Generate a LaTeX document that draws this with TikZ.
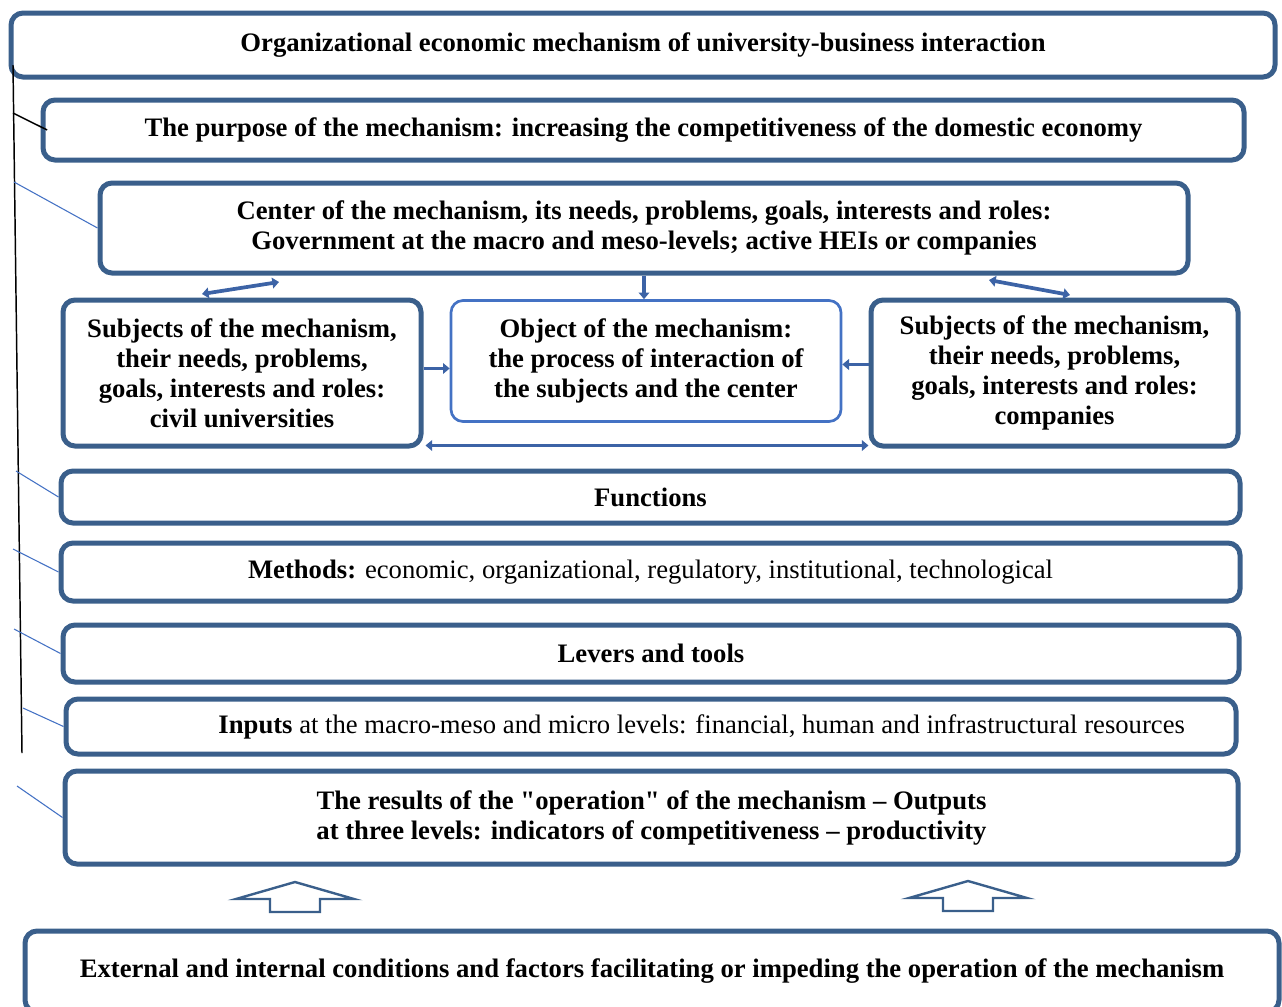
\documentclass[tikz,border=0pt]{standalone}
\usepackage{fontspec}
\setmainfont{Liberation Serif}
\usepackage{tikz}
\usetikzlibrary{arrows.meta}
\definecolor{boxblue}{HTML}{3A5F8B}
\definecolor{objblue}{HTML}{4472C4}
\definecolor{linkblue}{HTML}{3C63A6}
\tikzset{
box/.style = {rectangle, draw = boxblue, line width = 3.75pt, rounded corners = 9pt, fill = white, align = center, font = \bfseries\fontsize{20}{22.5}\selectfont, inner sep = 0pt},
obj box/.style = {box, draw = objblue, line width = 2pt},
size/.style 2 args = {minimum width = #1*0.75pt, minimum height = #2*0.75pt},
lbl/.style = {font = \fontsize{20}{22.5}\selectfont, inner sep = 0pt},
link/.style = {draw = linkblue, line width = 2.8pt, -{Triangle[length = 5pt, width = 8pt]}},
two link/.style = {link, {Triangle[length = 5pt, width = 8pt]}-{Triangle[length = 5pt, width = 8pt]}},
spine/.style = {draw = black, line width = 1.1pt},
black tick/.style = {draw = black, line width = 1.1pt},
blue tick/.style = {draw = objblue, line width = 0.8pt},
}
\tikzset{
pics/up arrow/.style = {
        code = {
        \path[draw = boxblue, line width = 1.8pt, fill = white] (-25, 30) -- (-25, 17) -- (-59, 17) -- (0, 0) -- (59, 17) -- (25, 17) -- (25, 30) -- cycle;
        }
    }
}
\begin{document}
\begin{tikzpicture}[x = 0.75pt, y = -0.75pt]
    \useasboundingbox (0, 0) rectangle (1282, 1007);
    \clip (0, 0) rectangle (1282, 1007);
    % boxes
    \node[box, size = {1264}{64}] (mech) at (643, 45) {Organizational economic mechanism of university-business interaction};
    \node[box, size = {1201}{60}] (purpose) at (643.5, 130) {The purpose of the mechanism: increasing the competitiveness of the domestic economy};
    \node[box, size = {1088}{90}] (center) at (644, 228) {Center of the mechanism, its needs, problems, goals, interests and roles:\\Government at the macro and meso-levels; active HEIs or companies};
    \node[box, size = {358}{146}] (subjL) at (242, 373) {Subjects of the mechanism,\\their needs, problems,\\goals, interests and roles:\\civil universities};
    \node[obj box, size = {390}{121}] (object) at (646, 361) {Object of the mechanism:\\the process of interaction of\\the subjects and the center};
    \node[box, size = {367}{146}] (subjR) at (1054.5, 373) {Subjects of the mechanism,\\their needs, problems,\\goals, interests and roles:\\companies};
    \node[box, size = {1179}{52}] (functions) at (650.5, 497) {Functions};
    \node[box, size = {1179}{58}] (methods) at (650.5, 572) {Methods: {\mdseries economic, organizational, regulatory, institutional, technological}};
    \node[box, size = {1176}{57}] (levers) at (651, 653.5) {Levers and tools};
    \node[box, size = {1170}{55}, label = {[lbl, xshift = 38pt]center:\textbf{Inputs} at the macro-meso and micro levels: financial, human and infrastructural resources}] (inputs) at (651, 726.5) {};
    \node[box, size = {1173}{93}] (results) at (651.5, 817.5) {The results of the \textquotedbl operation\textquotedbl{} of the mechanism -- Outputs\\at three levels: indicators of competitiveness -- productivity};
    \node[box, size = {1254}{81}] (conditions) at (652, 971.5) {External and internal conditions and factors facilitating or impeding the operation of the mechanism};
    % arrows between the boxes
    \draw[two link] ([shift = {(141.5, -3.5)}]subjL.north west) -- ([shift = {(181.5, 6.5)}]center.south west);
    \draw[two link] ([shift = {(-201.5, 4.5)}]center.south east) -- ([shift = {(201.5, -2.5)}]subjR.north west);
    \draw[link] (center.south) -- (center.south |- object.north);
    \draw[link] ([yshift = -5.6pt]object.west -| subjL.east) -- ([yshift = -5.6pt]object.west);
    \draw[link] ([yshift = -2.6pt]object.east -| subjR.west) -- ([yshift = -2.6pt]object.east);
    \draw[two link] ([shift = {(2, -3)}]subjL.south east) -- ([shift = {(0, -3)}]subjR.south west);
    \draw (295, 882) pic{up arrow};
    \draw (968, 881) pic{up arrow};
    % bracket on the left
    \coordinate (spine top) at (13, 65);
    \coordinate (spine end) at (22, 753);
    \coordinate (t1) at (13, 113);
    \coordinate (t2) at (14, 182);
    \coordinate (t3) at (16, 471);
    \coordinate (t4) at (13, 549);
    \coordinate (t5) at (14, 629);
    \coordinate (t6) at (23, 708);
    \coordinate (t7) at (17, 786);
    \draw[spine] (spine top) -- (spine end);
    \draw[black tick] (t1) -- ([xshift = 5pt]purpose.west);
    \draw[blue tick] (t2) -- (center.west);
    \draw[blue tick] (t3) -- (functions.west);
    \draw[blue tick] (t4) -- (methods.west);
    \draw[blue tick] (t5) -- (levers.west);
    \draw[blue tick] (t6) -- (inputs.west);
    \draw[blue tick] (t7) -- (results.west);
\end{tikzpicture}
\end{document}
